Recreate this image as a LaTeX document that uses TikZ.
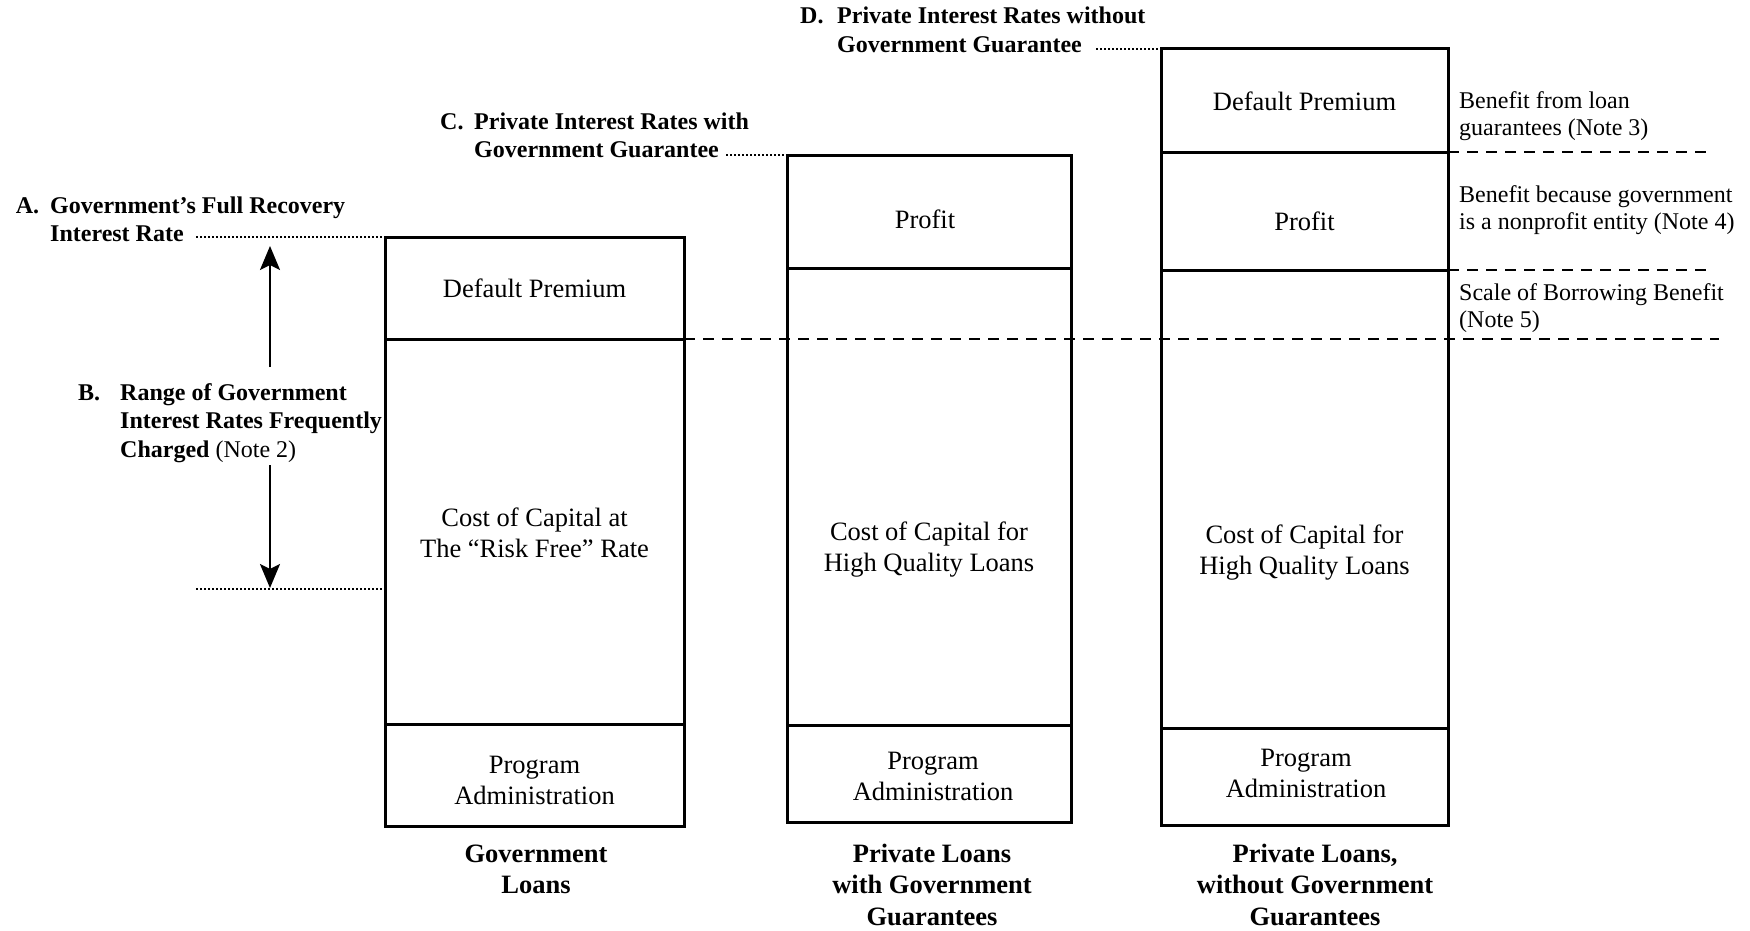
\documentclass[tikz,border=0pt]{standalone}
\usepackage{fontspec}
\setmainfont{Liberation Serif}
\usetikzlibrary{arrows.meta}
\begin{document}
\begin{tikzpicture}[x=1pt,y=-1pt,
  seg/.style={draw, line width=3pt, inner sep=0pt, outer sep=0pt, anchor=north west},
  boxtxt/.style={font=\fontsize{26.5}{31}\selectfont, align=center, anchor=base, inner sep=0pt},
  captxt/.style={font=\bfseries\fontsize{26.5}{31.6}\selectfont, align=center, anchor=base, inner sep=0pt},
  lbl/.style={font=\bfseries\fontsize{24}{28.8}\selectfont, align=left, anchor=base west, inner sep=0pt},
  note/.style={font=\fontsize{24}{27.5}\selectfont, align=left, anchor=base west, inner sep=0pt},
  leader/.style={line width=1.8pt, dash pattern=on 1.8pt off 2.2pt},
  dsh/.style={line width=2.4pt, dash pattern=on 11pt off 8pt},
  arr/.style={line width=2.4pt, -{Stealth[length=24pt,width=20pt,inset=5pt]}}
]
\useasboundingbox (0,0) rectangle (1750,931);

% Box 1: Government loans
\node[seg, minimum width=299pt, minimum height=102pt] (g1a) at (385,237) {};
\node[seg, minimum width=299pt, minimum height=385pt] (g1b) at (385,339) {};
\node[seg, minimum width=299pt, minimum height=102pt] (g1c) at (385,724) {};
% Box 2
\node[seg, minimum width=284pt, minimum height=113pt] (g2a) at (787,155) {};
\node[seg, minimum width=284pt, minimum height=457pt] (g2b) at (787,268) {};
\node[seg, minimum width=284pt, minimum height=97pt] (g2c) at (787,725) {};
% Box 3
\node[seg, minimum width=287pt, minimum height=103pt] (p3a) at (1161,49) {};
\node[seg, minimum width=287pt, minimum height=118pt] (p3b) at (1161,152) {};
\node[seg, minimum width=287pt, minimum height=458pt] (p3c) at (1161,270) {};
\node[seg, minimum width=287pt, minimum height=97pt] (p3d) at (1161,728) {};

% Box texts (anchor = baseline of last line)
\node[boxtxt] (t1a) at (534.5,297) {Default Premium};
\node[boxtxt] (t1b) at (534.5,557) {Cost of Capital at\\The “Risk Free” Rate};
\node[boxtxt] (t1c) at (534.5,804) {Program\\Administration};
\node[boxtxt] (t2a) at (925,228) {Profit};
\node[boxtxt] (t2b) at (929,571) {Cost of Capital for\\High Quality Loans};
\node[boxtxt] (t2c) at (933,800) {Program\\Administration};
\node[boxtxt] (t3a) at (1304.5,111) {Default Premium};
\node[boxtxt] (t3b) at (1304.5,230) {Profit};
\node[boxtxt] (t3c) at (1304.5,574) {Cost of Capital for\\High Quality Loans};
\node[boxtxt] (t3d) at (1306,797) {Program\\Administration};

% Captions
\node[captxt] (c1) at (536,893.6) {Government\\Loans};
\node[captxt] (c2) at (932,925.2) {Private Loans\\with Government\\Guarantees};
\node[captxt] (c3) at (1315,925.2) {Private Loans,\\without Government\\Guarantees};

% Left labels
\node[lbl] (aL) at (15.6,213) {A.};
\node[lbl] (aT) at (50,241.8) {Government’s Full Recovery\\Interest Rate};
\node[lbl] (bL) at (78,400) {B.};
\node[lbl] (bT) at (120,457.6) {Range of Government\\Interest Rates Frequently\\Charged {\mdseries (Note 2)}};
\node[lbl] (cL) at (440,129) {C.};
\node[lbl] (cT) at (474,157.8) {Private Interest Rates with\\Government Guarantee};
\node[lbl] (dL) at (800,24) {D.};
\node[lbl] (dT) at (837,52.8) {Private Interest Rates without\\Government Guarantee};

% Notes
\node[note] (n3) at (1459,135.5) {Benefit from loan\\guarantees (Note 3)};
\node[note] (n4) at (1459,229.5) {Benefit because government\\is a nonprofit entity (Note 4)};
\node[note] (n5) at (1459,327.5) {Scale of Borrowing Benefit\\(Note 5)};

% Leaders
\coordinate (aS) at (196,237);
\draw[leader] (aS) -- (g1a.north west);
\coordinate (lowS) at (196,589);
\draw[leader] (lowS) -- (lowS -| g1b.west);
\coordinate (cS) at (726,155);
\draw[leader] (cS) -- (g2a.north west);
\coordinate (dS) at (1096,49);
\draw[leader] (dS) -- (p3a.north west);

% Arrows
\coordinate (upS) at (270,367);
\coordinate (upE) at (270,246);
\draw[arr] (upS) -- (upE);
\coordinate (dnS) at (270,465);
\coordinate (dnE) at (270,588);
\draw[arr] (dnS) -- (dnE);

% Dashed lines
\coordinate (dEnd1) at (1719,339);
\draw[dsh] (g1a.south east) -- (dEnd1);
\coordinate (dEnd2) at (1709,152);
\draw[dsh] (p3a.south east) -- (dEnd2);
\coordinate (dEnd3) at (1709,270);
\draw[dsh] (p3b.south east) -- (dEnd3);
\end{tikzpicture}
\end{document}
